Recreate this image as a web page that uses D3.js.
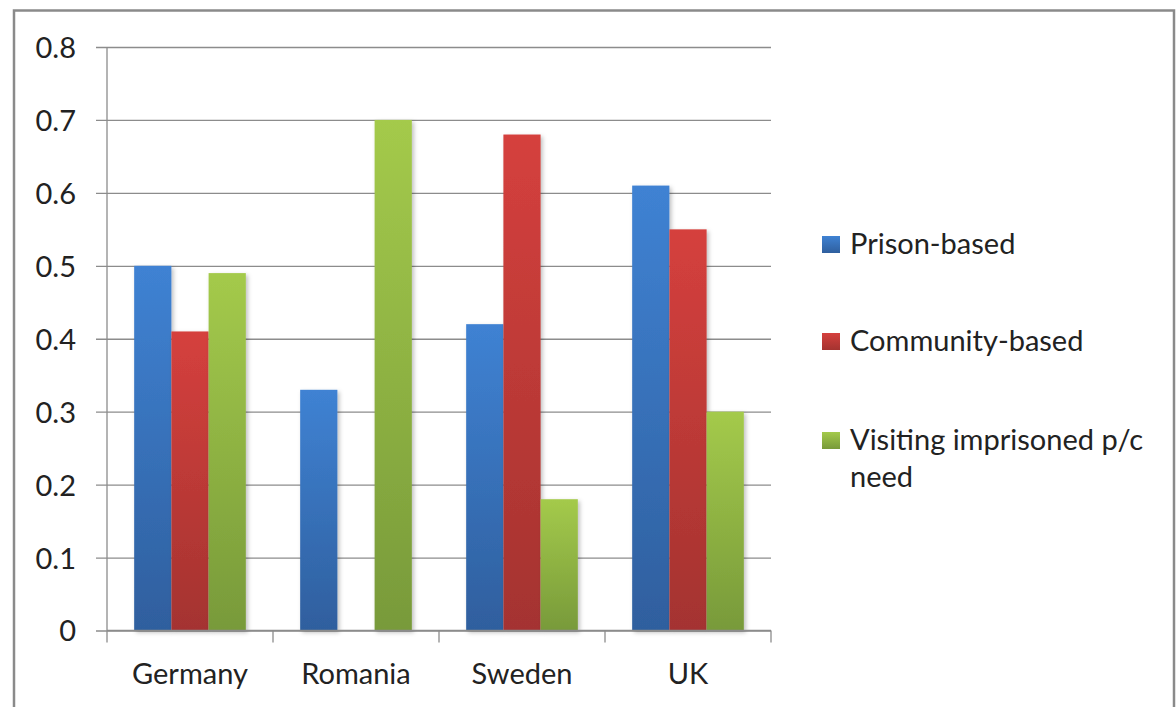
<!DOCTYPE html>
<html>
<head>
<meta charset="utf-8">
<script src="https://cdn.jsdelivr.net/npm/d3@7"></script>
<style>
  html, body { margin: 0; padding: 0; background: #fff; }
  svg { display: block; }
  text { font-family: Lato, "Open Sans", sans-serif; fill: #222; }
</style>
</head>
<body>
<svg id="chart" width="1176" height="707"></svg>
<script>
const categories = ["Germany", "Romania", "Sweden", "UK"];
const seriesNames = ["Prison-based", "Community-based", "Visiting imprisoned p/c need"];
const prisonBased = [0.50, 0.33, 0.42, 0.61];
const communityBased = [0.41, 0, 0.68, 0.55];
const visitingNeed = [0.49, 0.70, 0.18, 0.30];
const yTicks = [0, 0.1, 0.2, 0.3, 0.4, 0.5, 0.6, 0.7, 0.8];
const legendLines = [["Prison-based"], ["Community-based"], ["Visiting imprisoned p/c", "need"]];

const seriesValues = [prisonBased, communityBased, visitingNeed];
const colors = [
  { top: "#3F82D3", bottom: "#2F5F9E" },
  { top: "#D5403D", bottom: "#A43330" },
  { top: "#A4CA4B", bottom: "#789A3A" }
];
const legendColors = ["#3F78C4", "#C23A37", "#8DB446"];

const svg = d3.select("#chart");
const defs = svg.append("defs");
colors.forEach((c, i) => {
  const g = defs.append("linearGradient").attr("id", "grad" + i)
    .attr("x1", 0).attr("y1", 0).attr("x2", 0).attr("y2", 1);
  g.append("stop").attr("offset", "0%").attr("stop-color", c.top);
  g.append("stop").attr("offset", "100%").attr("stop-color", c.bottom);
});
const shadow = defs.append("filter").attr("id", "shadow")
  .attr("x", "-20%").attr("y", "-5%").attr("width", "150%").attr("height", "115%");
shadow.append("feDropShadow").attr("dx", 2).attr("dy", 2).attr("stdDeviation", 2)
  .attr("flood-color", "#000").attr("flood-opacity", 0.25);

// outer border
svg.append("rect").attr("x", 14).attr("y", 10.5).attr("width", 1160).attr("height", 720)
  .attr("fill", "none").attr("stroke", "#8a8a8a").attr("stroke-width", 2.5);

const plotLeft = 107, plotRight = 771, plotTop = 47, plotBottom = 630.5;

const y = d3.scaleLinear().domain([0, 0.8]).range([plotBottom, plotTop]);
const x0 = d3.scaleBand().domain(categories).range([plotLeft, plotRight]).paddingInner(0).paddingOuter(0);
const x1 = d3.scaleBand().domain(d3.range(seriesNames.length)).range([0, x0.bandwidth()])
  .paddingInner(0).paddingOuter(0.73);

// gridlines + y ticks
const yAxis = d3.axisLeft(y).tickValues(yTicks)
  .tickSize(-(plotRight - plotLeft) - 11)
  .tickPadding(21)
  .tickFormat(d => d === 0 ? "0" : d3.format(".1f")(d));
const yg = svg.append("g").attr("transform", `translate(${plotRight},0)`).call(yAxis);
yg.select(".domain").remove();
yg.selectAll(".tick line").attr("stroke", "#8c8c8c").attr("stroke-width", 1.3)
  .attr("x1", 0).attr("x2", -(plotRight - plotLeft) - 11);
yg.selectAll(".tick text").attr("x", -(plotRight - plotLeft) - 31)
  .style("font-size", "29px").style("fill", "#222").attr("dy", "0.36em");

// bars
const groups = svg.append("g").selectAll("g").data(categories).join("g")
  .attr("transform", d => `translate(${x0(d)},0)`);
groups.selectAll("rect")
  .data((d, ci) => seriesValues.map((vals, si) => ({ si, v: vals[ci] })).filter(o => o.v > 0))
  .join("rect")
  .attr("x", d => x1(d.si))
  .attr("width", x1.bandwidth())
  .attr("y", d => y(d.v))
  .attr("height", d => y(0) - y(d.v))
  .attr("fill", d => `url(#grad${d.si})`)
  .attr("filter", "url(#shadow)");

// y axis line
svg.append("line").attr("x1", plotLeft).attr("x2", plotLeft).attr("y1", plotTop).attr("y2", plotBottom)
  .attr("stroke", "#8c8c8c").attr("stroke-width", 1.3);

// x axis
const xAxisG = svg.append("g");
xAxisG.append("line").attr("x1", plotLeft).attr("x2", plotRight).attr("y1", plotBottom).attr("y2", plotBottom)
  .attr("stroke", "#8c8c8c").attr("stroke-width", 1.3);
const boundaries = categories.map(c => x0(c)).concat([plotRight]);
xAxisG.selectAll("line.tk").data(boundaries).join("line").attr("class", "tk")
  .attr("x1", d => d).attr("x2", d => d).attr("y1", plotBottom).attr("y2", plotBottom + 12)
  .attr("stroke", "#8c8c8c").attr("stroke-width", 1.3);
xAxisG.selectAll("text").data(categories).join("text")
  .attr("x", d => x0(d) + x0.bandwidth() / 2)
  .attr("y", 684)
  .attr("text-anchor", "middle")
  .style("font-size", "29px")
  .text(d => d);

// legend
const legendX = 822;
const legendRowsY = [254, 351, 450];
const lg = svg.append("g");
legendLines.forEach((lines, i) => {
  lg.append("rect").attr("x", legendX).attr("y", legendRowsY[i] - 18)
    .attr("width", 18).attr("height", 17).attr("fill", `url(#grad${i})`);
  const t = lg.append("text").attr("x", legendX + 28).attr("y", legendRowsY[i])
    .style("font-size", "29px");
  lines.forEach((ln, j) => {
    t.append("tspan").attr("x", legendX + 28).attr("dy", j === 0 ? 0 : 37).text(ln);
  });
});
</script>
</body>
</html>
